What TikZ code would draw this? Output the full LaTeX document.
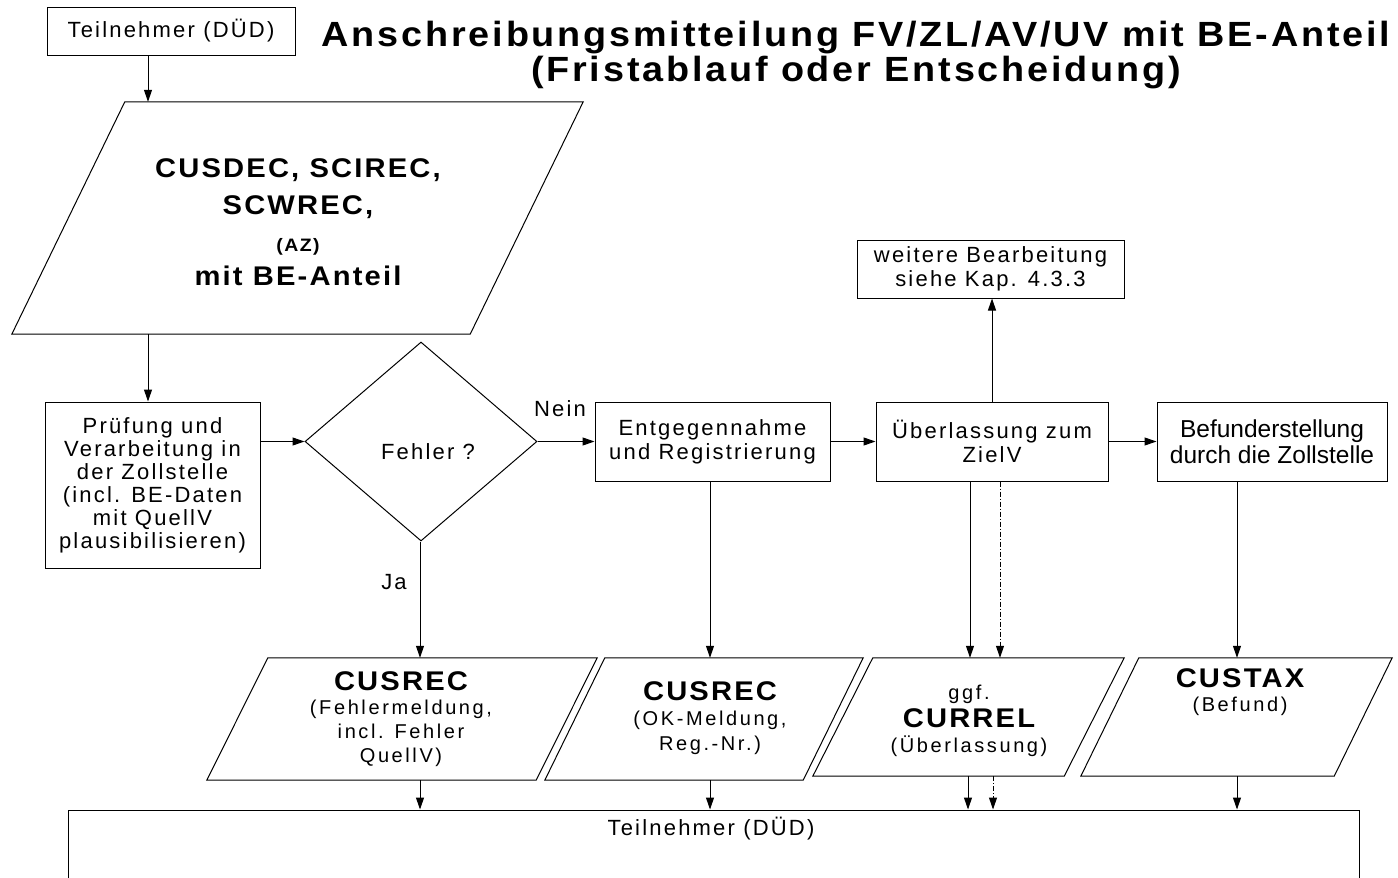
\documentclass[tikz,border=0pt]{standalone}
\usepackage{fontspec}
\setmainfont{Liberation Sans}
\newfontfamily\fA[LetterSpace=10]{Liberation Sans}
\newfontfamily\fB[LetterSpace=8,FakeStretch=1.08]{Liberation Sans}
\newfontfamily\fD[LetterSpace=13]{Liberation Sans}
\newcommand\bfbig{\fB\bfseries\fontsize{27}{24}\selectfont}
\usetikzlibrary{arrows.meta,shapes.geometric}
\begin{document}
\begin{tikzpicture}[x=1pt,y=-1pt,
 ln/.style={draw=black,line width=1pt},
 arr/.style={ln,-{Triangle[length=12pt,width=8pt]}},
 dd/.style={dash pattern=on 5pt off 2pt on 1pt off 2pt},
 box/.style={ln,rectangle,inner sep=0pt,align=center,font=\fA\fontsize{22}{24}\selectfont},
 frame/.style={rectangle,draw=none,inner sep=0pt},
 ptext/.style={align=center,inner sep=0pt,font=\fD\fontsize{20}{24}\selectfont},
 lbl/.style={inner sep=0pt,font=\fA\fontsize{22}{24}\selectfont}
]
\path[use as bounding box] (0,0) rectangle (1398,878);
\fill[white] (0,0) rectangle (1398,878);

\coordinate (ax) at (148,0);
\coordinate (x1) at (420,0);
\coordinate (x2) at (710,0);
\coordinate (x3) at (970,0);
\coordinate (x4) at (1000,0);
\coordinate (x5) at (1237,0);
\coordinate (x6) at (968,0);
\coordinate (x7) at (993,0);

% top participant
\node[box,minimum width=248pt,minimum height=48pt] (t1) at (171,31) {Teilnehmer (DÜD)};

% title
\node[inner sep=0pt,align=center,font=\fB\bfseries\fontsize{35}{35}\selectfont] (title) at (856,55)
 {Anschreibungsmitteilung FV/ZL/AV/UV mit BE-Anteil\\(Fristablauf oder Entscheidung)};

% input parallelogram
\node[frame,minimum width=571pt,minimum height=232pt] (pin) at (297.5,218) {};
\draw[ln] ([xshift=113pt]pin.north west) -- (pin.north east) -- ([xshift=-113pt]pin.south east) -- (pin.south west) -- cycle;
\node[inner sep=0pt,align=center,font=\fB\bfseries\fontsize{27}{37}\selectfont] (pint) at (298,222)
 {CUSDEC, SCIREC,\\SCWREC,\\{\fontsize{18}{37}\selectfont (AZ)}\\[-3pt]mit BE-Anteil};

% process boxes
\node[box,minimum width=215pt,minimum height=166pt,font=\fA\fontsize{22}{23}\selectfont] (pr) at (152.5,485)
 {Prüfung und\\Verarbeitung in\\der Zollstelle\\(incl. BE-Daten\\mit QuellV\\plausibilisieren)};
\node[ln,diamond,minimum width=232pt,minimum height=199pt,inner sep=0pt] (dia) at (421,441.5) {};
\node[lbl] (fehler) at (428,452) {Fehler ?};
\node[lbl] (nein) at (560,409) {Nein};
\node[lbl] (ja) at (394,582) {Ja};
\node[box,minimum width=235pt,minimum height=79pt] (ent) at (712.5,441.5) {Entgegennahme\\und Registrierung};
\node[box,minimum width=232pt,minimum height=79pt] (ueb) at (992,441.5) {Überlassung zum\\ZielV};
\node[box,minimum width=267pt,minimum height=58pt] (wei) at (990.5,269) {weitere Bearbeitung\\siehe Kap. 4.3.3};
\node[box,minimum width=230pt,minimum height=79pt,font=\fontsize{24.5}{26}\selectfont] (bef) at (1272,441.5) {Befunderstellung\\durch die Zollstelle};

% output parallelograms
\node[frame,minimum width=390pt,minimum height=122pt] (p1) at (402,719) {};
\draw[ln] ([xshift=61pt]p1.north west) -- (p1.north east) -- ([xshift=-61pt]p1.south east) -- (p1.south west) -- cycle;
\node[frame,minimum width=318pt,minimum height=122pt] (p2) at (704,719) {};
\draw[ln] ([xshift=60pt]p2.north west) -- (p2.north east) -- ([xshift=-60pt]p2.south east) -- (p2.south west) -- cycle;
\node[frame,minimum width=311pt,minimum height=118pt] (p3) at (968.5,717) {};
\draw[ln] ([xshift=60pt]p3.north west) -- (p3.north east) -- ([xshift=-60pt]p3.south east) -- (p3.south west) -- cycle;
\node[frame,minimum width=311pt,minimum height=118pt] (p4) at (1236.5,717) {};
\draw[ln] ([xshift=58pt]p4.north west) -- (p4.north east) -- ([xshift=-58pt]p4.south east) -- (p4.south west) -- cycle;

\node[ptext] (p1t) at (401,719) {{\bfbig CUSREC}\\(Fehlermeldung,\\incl. Fehler\\QuellV)};
\node[ptext,font=\fD\fontsize{20}{25}\selectfont] (p2t) at (710,718) {{\bfbig CUSREC}\\(OK-Meldung,\\Reg.-Nr.)};
\node[ptext,font=\fD\fontsize{20}{25}\selectfont] (p3t) at (969,721) {ggf.\\[3pt]{\bfbig CURREL}\\(Überlassung)};
\node[ptext] (p4t) at (1240,692) {{\bfbig CUSTAX}\\(Befund)};

% bottom participant
\node[box,minimum width=1291pt,minimum height=80pt] (tb) at (713.5,850) {};
\node[lbl] (tbt) at (711,829) {Teilnehmer (DÜD)};

% connectors
\draw[arr] (t1.south -| ax) -- (pin.north -| ax);
\draw[arr] (pin.south -| ax) -- (pr.north -| ax);
\draw[arr] (pr.east |- dia.west) -- (dia.west);
\draw[arr] (dia.east) -- (ent.west);
\draw[arr] (ent.east) -- (ueb.west);
\draw[arr] (ueb.east) -- (bef.west);
\draw[arr] (ueb.north) -- (ueb.north |- wei.south);
\draw[arr] (dia.south -| x1) -- (x1 |- p1.north);
\draw[arr] (ent.south -| x2) -- (x2 |- p2.north);
\draw[arr] (ueb.south -| x3) -- (x3 |- p3.north);
\draw[arr,dd] (ueb.south -| x4) -- (x4 |- p3.north);
\draw[arr] (bef.south -| x5) -- (x5 |- p4.north);
\draw[arr] (p1.south -| x1) -- (x1 |- tb.north);
\draw[arr] (p2.south -| x2) -- (x2 |- tb.north);
\draw[arr] (p3.south -| x6) -- (x6 |- tb.north);
\draw[arr,dd] (p3.south -| x7) -- (x7 |- tb.north);
\draw[arr] (p4.south -| x5) -- (x5 |- tb.north);
\end{tikzpicture}
\end{document}
